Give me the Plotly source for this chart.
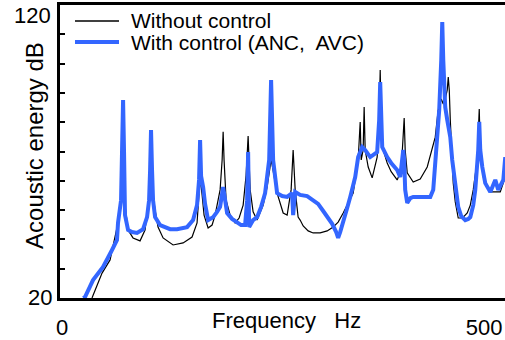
import plotly.graph_objects as go

# Without control (black, thin)
freq_without = [37.9, 49.8, 59.3, 68.7, 72.3, 74.7, 77.0, 80.6, 86.5, 94.8, 100.7, 104.3, 107.8, 112.6,
                116.1, 122.1, 133.9, 145.8, 156.4, 162.3, 164.7, 165.9, 168.3, 170.6, 175.4, 180.1, 183.7,
                189.6, 192.0, 193.2, 194.3, 196.7, 201.5, 207.4, 212.1, 216.9, 220.4, 222.8, 225.2, 228.7,
                233.4, 240.6, 245.3, 248.9, 250.0, 251.2, 257.1, 264.3, 269.0, 273.7, 276.1, 278.5, 282.0,
                284.4, 288.0, 293.9, 299.8, 308.1, 316.4, 323.5, 329.4, 335.4, 347.2, 353.1, 355.5, 356.7,
                359.0, 360.2, 361.4, 365.0, 369.7, 375.6, 378.0, 379.2, 380.4, 382.8, 387.5, 392.2, 399.3,
                404.1, 406.5, 407.6, 408.8, 411.2, 418.3, 426.6, 434.9, 439.7, 444.4, 447.9, 451.5, 453.9,
                456.2, 458.6, 459.8, 461.0, 462.2, 465.7, 468.1, 471.6, 476.8, 482.3, 485.9, 489.4, 494.1,
                496.5, 497.7, 501.3, 509.6, 521.4, 527.3]
level_without = [20.0, 28.5, 33.0, 45.6, 51.7, 58.6, 51.7, 43.2, 40.5, 39.5, 43.2, 52.4, 60.3, 50.0,
                 44.2, 40.5, 38.1, 38.8, 40.8, 45.6, 55.8, 61.0, 55.2, 48.3, 43.9, 44.9, 48.3,
                 56.9, 67.1, 76.7, 67.1, 53.4, 48.3, 45.6, 47.3, 51.7, 62.0, 75.3, 56.9, 49.4,
                 46.6, 51.7, 57.9, 65.4, 67.1, 65.4, 55.8, 49.0, 48.3, 56.9, 70.5, 56.9, 47.6,
                 46.6, 44.6, 42.9, 42.2, 42.2, 42.9, 44.2, 45.9, 49.0, 55.8, 67.1, 80.1, 67.1,
                 70.5, 85.2, 70.5, 64.7, 61.0, 68.1, 80.8, 97.8, 80.8, 70.5, 66.1, 63.1, 60.3,
                 63.7, 73.9, 81.4, 70.5, 62.7, 59.6, 60.6, 64.7, 69.8, 74.9, 84.2, 87.9, 86.2,
                 87.9, 91.0, 95.4, 91.0, 80.8, 59.2, 52.8, 47.3, 47.3, 49.0, 51.7, 56.9, 67.1,
                 84.5, 70.5, 61.3, 56.2, 56.2, 61.3]

# With control (ANC, AVC) (blue, thick)
freq_with = [27.3, 29.6, 39.1, 51.0, 61.6, 67.5, 68.7, 72.3, 73.5, 74.7, 75.8, 77.0, 80.6, 85.3, 91.2,
             98.4, 103.1, 105.5, 106.7, 107.8, 109.0, 110.2, 112.6, 118.5, 130.4, 138.6, 150.5, 157.6,
             162.3, 164.7, 165.9, 167.1, 169.5, 171.8, 175.4, 181.3, 186.0, 189.6, 193.2, 197.9, 203.8,
             209.7, 214.5, 219.2, 221.6, 222.8, 224.0, 228.7, 233.4, 238.2, 242.9, 247.7, 250.0, 252.4,
             257.1, 263.1, 269.0, 274.9, 276.1, 278.5, 284.4, 292.7, 299.8, 305.7, 311.7, 317.6, 322.3,
             327.1, 329.4, 331.8, 335.4, 340.1, 343.7, 347.2, 349.6, 353.1, 357.9, 361.4, 367.4, 375.6,
             378.0, 379.2, 380.4, 381.6, 387.5, 392.2, 399.3, 402.9, 406.5, 407.6, 408.8, 411.2, 414.8,
             418.3, 426.6, 438.5, 442.0, 446.7, 449.1, 451.5, 452.7, 453.9, 456.2, 458.6, 462.2, 464.5,
             468.1, 471.6, 475.2, 479.9, 483.5, 485.9, 489.4, 491.8, 495.3, 496.5, 497.7, 500.1, 503.6,
             509.6, 515.5, 519.0, 525.0, 527.3]
level_with = [20.0, 20.3, 26.1, 30.6, 36.4, 39.8, 45.6, 53.4, 70.5, 87.6, 70.5, 48.3, 43.2, 42.5, 42.2,
              43.5, 47.6, 53.4, 63.7, 77.3, 63.7, 53.4, 47.6, 44.9, 43.5, 43.5, 44.2, 46.6,
              51.7, 60.3, 73.9, 61.6, 57.9, 52.1, 46.6, 47.6, 49.4, 51.1, 57.9, 49.0, 47.0,
              45.6, 44.9, 44.9, 53.4, 69.8, 44.2, 46.6, 47.6, 51.1, 55.8, 67.1, 94.4, 67.1,
              55.8, 54.8, 54.5, 55.8, 48.3, 56.2, 55.2, 54.8, 53.4, 52.1, 49.7, 47.3, 45.3,
              42.5, 40.5, 42.5, 46.6, 50.7, 54.5, 57.9, 61.3, 68.1, 71.5, 70.5, 68.1, 69.8,
              80.8, 93.7, 80.8, 71.5, 68.1, 66.1, 63.7, 61.3, 70.5, 67.1, 56.9, 52.4, 54.1,
              54.5, 54.5, 54.5, 56.9, 72.9, 84.2, 101.2, 114.2, 101.2, 85.2, 80.8, 74.9, 67.1,
              59.2, 51.1, 47.9, 46.6, 47.0, 47.6, 51.7, 56.9, 70.5, 80.1, 70.5, 64.7, 59.2,
              56.2, 60.3, 56.9, 60.3, 68.1]

x_tick_vals = [0, 500]
x_tick_text = ["0", "500"]
y_tick_vals = [20, 30, 40, 50, 60, 70, 80, 90, 100, 110, 120]

FONT = "Liberation Sans, Arial, sans-serif"
BLUE = "#3366FF"

fig = go.Figure()
fig.add_trace(go.Scatter(x=freq_without, y=level_without, mode="lines", name="Without control",
                         line=dict(color="black", width=1.2), showlegend=False))
fig.add_trace(go.Scatter(x=freq_with, y=level_with, mode="lines", name="With control (ANC, AVC)",
                         line=dict(color=BLUE, width=4), showlegend=False))

# legend (drawn manually to match the original layout)
legend_items = [("Without control", "black", 1.5, 0.9454),
                ("With control (ANC,\u00a0 AVC)", BLUE, 4, 0.8737)]
for label, color, w, ypos in legend_items:
    fig.add_shape(type="line", xref="paper", yref="paper", x0=0.0337, x1=0.1326, y0=ypos, y1=ypos,
                  line=dict(color=color, width=w))
    fig.add_annotation(xref="paper", yref="paper", x=0.1573, y=ypos, xanchor="left", yanchor="middle",
                       text=label, showarrow=False, font=dict(family=FONT, size=21, color="black"),
                       borderpad=0)

# y tick labels and axis titles
fig.add_annotation(xref="paper", yref="y", x=0, y=120, xanchor="right", yanchor="middle", xshift=-8,
                   yshift=-10, text="120", showarrow=False, font=dict(family=FONT, size=22, color="black"),
                   borderpad=0)
fig.add_annotation(xref="paper", yref="y", x=0, y=20, xanchor="right", yanchor="middle", xshift=-7,
                   yshift=1, text="20", showarrow=False, font=dict(family=FONT, size=22, color="black"),
                   borderpad=0)
fig.add_annotation(xref="paper", yref="paper", x=0, y=0.519, xanchor="center", yanchor="middle",
                   xshift=-25, textangle=-90, text="Acoustic energy dB", showarrow=False,
                   font=dict(family=FONT, size=24, color="black"))
fig.add_annotation(xref="paper", yref="paper", x=0.51, y=0, xanchor="center", yanchor="middle",
                   yshift=-22, text="Frequency\u00a0\u00a0\u00a0Hz", showarrow=False,
                   font=dict(family=FONT, size=22, color="black"))

fig.update_layout(
    width=505, height=340,
    margin=dict(l=60, r=0, t=5, b=42),
    paper_bgcolor="white", plot_bgcolor="white",
    font=dict(family=FONT, size=22, color="black"),
    showlegend=False,
)
fig.update_xaxes(range=[0, 527], tickvals=x_tick_vals, ticktext=x_tick_text, ticks="",
                 showline=True, linecolor="black", linewidth=2.5, mirror=True, automargin=False,
                 showgrid=False, zeroline=False, ticklabelstandoff=8, ticklabelshift=2,
                 tickfont=dict(family=FONT, size=22, color="black"))
fig.update_yaxes(range=[20, 120], tickvals=y_tick_vals, showticklabels=False, ticks="inside",
                 ticklen=5, tickwidth=1.5, tickcolor="black", automargin=False,
                 showline=True, linecolor="black", linewidth=2.5,
                 showgrid=False, zeroline=False)

fig.write_html("out.html", post_script="document.body.style.margin='0';",
               config={"displayModeBar": False})
